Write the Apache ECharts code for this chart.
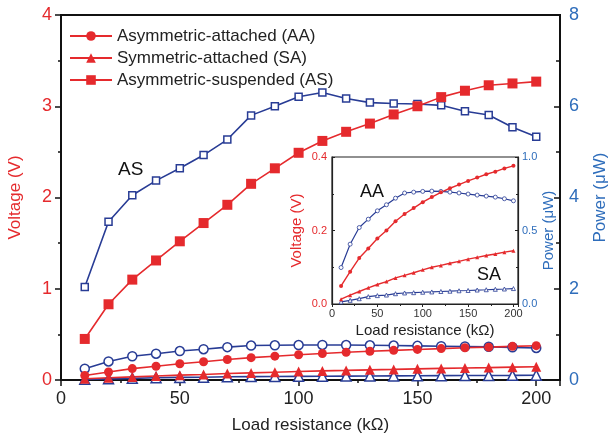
<!DOCTYPE html>
<html>
<head>
<meta charset="utf-8">
<script src="https://cdn.jsdelivr.net/npm/echarts@6/dist/echarts.min.js"></script>
<style>
  html, body { margin: 0; padding: 0; background: #fff; }
  #chart { width: 609px; height: 445px; }
</style>
</head>
<body>
<div id="chart"></div>
<script>
// load resistance (kOhm)
var loads = [10, 20, 30, 40, 50, 60, 70, 80, 90, 100, 110, 120, 130, 140, 150, 160, 170, 180, 190, 200];

// voltage (V)
var voltAA = [0.049, 0.088, 0.125, 0.151, 0.178, 0.200, 0.225, 0.245, 0.261, 0.277, 0.291, 0.304, 0.315, 0.325, 0.335, 0.344, 0.353, 0.360, 0.369, 0.376];
var voltSA = [0.013, 0.024, 0.034, 0.044, 0.053, 0.061, 0.071, 0.078, 0.085, 0.093, 0.100, 0.105, 0.111, 0.116, 0.122, 0.127, 0.132, 0.136, 0.141, 0.145];
var voltAS = [0.45, 0.83, 1.10, 1.31, 1.52, 1.72, 1.92, 2.15, 2.32, 2.49, 2.62, 2.72, 2.81, 2.91, 3.00, 3.10, 3.17, 3.23, 3.25, 3.27];

// power (uW)
var powAA = [0.248, 0.407, 0.520, 0.577, 0.634, 0.675, 0.720, 0.755, 0.761, 0.766, 0.768, 0.766, 0.761, 0.755, 0.748, 0.741, 0.734, 0.727, 0.716, 0.702];
var powSA = [0.014, 0.025, 0.036, 0.050, 0.057, 0.061, 0.070, 0.075, 0.077, 0.080, 0.082, 0.085, 0.087, 0.090, 0.092, 0.095, 0.097, 0.100, 0.102, 0.105];
var powAS = [2.04, 3.47, 4.05, 4.37, 4.64, 4.93, 5.27, 5.80, 6.00, 6.21, 6.30, 6.17, 6.08, 6.06, 6.05, 6.02, 5.89, 5.81, 5.54, 5.33];

var names = ['Asymmetric-attached (AA)', 'Symmetric-attached (SA)', 'Asymmetric-suspended (AS)'];

var RED = '#e52a2d';
var BLUE = '#283c95';
var BLUE_TXT = '#2e6dbb';
var FONT = 'Liberation Sans, Arial, sans-serif';

function pairs(arr) {
    return loads.map(function (x, i) { return [x, arr[i]]; });
}

// main chart line
function vLine(name, arr, symbol, size) {
    return {
        name: name, type: 'line', xAxisIndex: 0, yAxisIndex: 0,
        data: pairs(arr), symbol: symbol, symbolSize: size,
        lineStyle: { color: RED, width: 1.6 },
        itemStyle: { color: RED }
    };
}
function pLine(name, arr, symbol, size) {
    return {
        name: name, type: 'line', xAxisIndex: 0, yAxisIndex: 1,
        data: pairs(arr), symbol: symbol, symbolSize: size,
        lineStyle: { color: BLUE, width: 1.6 },
        itemStyle: { color: '#fff', borderColor: BLUE, borderWidth: 1.5 }
    };
}
// inset lines
function ivLine(arr, symbol) {
    return {
        name: 'inset-v', type: 'line', xAxisIndex: 1, yAxisIndex: 2,
        data: pairs(arr), symbol: symbol, symbolSize: 4,
        lineStyle: { color: RED, width: 1.4 },
        itemStyle: { color: RED }
    };
}
function ipLine(arr, symbol) {
    return {
        name: 'inset-p', type: 'line', xAxisIndex: 1, yAxisIndex: 3,
        data: pairs(arr), symbol: symbol, symbolSize: 4,
        lineStyle: { color: BLUE, width: 1.2 },
        itemStyle: { color: '#fff', borderColor: BLUE, borderWidth: 0.8 }
    };
}

var frame = { lineStyle: { color: '#111', width: 2 } };

var option = {
    animation: false,
    textStyle: { fontFamily: FONT },
    grid: [
        { left: 61, right: 49, top: 15, bottom: 65, show: true, borderColor: '#111', borderWidth: 2, outerBoundsMode: 'none', containLabel: false },
        { left: 332, top: 157, width: 186, height: 147, show: true, backgroundColor: '#fff', borderColor: '#222', borderWidth: 1.2, outerBoundsMode: 'none', containLabel: false }
    ],
    legend: {
        data: names,
        orient: 'vertical',
        left: 64, top: 21,
        itemWidth: 42, itemHeight: 12, itemGap: 2,
        textStyle: { fontSize: 17, color: '#222', lineHeight: 20, fontFamily: FONT }
    },
    xAxis: [
        {
            type: 'value', gridIndex: 0, min: 0, max: 210, interval: 50,
            name: 'Load resistance (k\u03A9)', nameLocation: 'middle', nameGap: 37,
            nameTextStyle: { fontSize: 17, color: '#222' },
            axisLine: frame,
            axisTick: { length: 6, lineStyle: { width: 1.5, color: '#111' } },
            minorTick: { show: true, splitNumber: 2, length: 3, lineStyle: { width: 1.5, color: '#111' } },
            splitLine: { show: false },
            axisLabel: { fontSize: 18, color: '#222', margin: 10, showMaxLabel: false }
        },
        {
            type: 'value', gridIndex: 1, min: 0, max: 205, interval: 50,
            name: 'Load resistance (k\u03A9)', nameLocation: 'middle', nameGap: 19,
            nameTextStyle: { fontSize: 15, color: '#222' },
            axisLine: { lineStyle: { color: '#222', width: 1.2 } },
            axisTick: { length: 3, lineStyle: { color: '#222' } },
            minorTick: { show: true, splitNumber: 2, length: 2, lineStyle: { color: '#222' } },
            splitLine: { show: false },
            axisLabel: { fontSize: 11, color: '#333', margin: 4, showMaxLabel: false }
        }
    ],
    yAxis: [
        {
            type: 'value', gridIndex: 0, min: 0, max: 4, interval: 1, position: 'left',
            name: 'Voltage (V)', nameLocation: 'middle', nameGap: 37,
            nameTextStyle: { fontSize: 17, color: RED },
            axisLine: frame,
            axisTick: { length: 6, lineStyle: { width: 1.5, color: '#111' } },
            minorTick: { show: true, splitNumber: 2, length: 3, lineStyle: { width: 1.5, color: '#111' } },
            splitLine: { show: false },
            axisLabel: { fontSize: 18, color: RED, margin: 9 }
        },
        {
            type: 'value', gridIndex: 0, min: 0, max: 8, interval: 2, position: 'right',
            name: 'Power (\u03BCW)', nameLocation: 'middle', nameGap: 32,
            nameTextStyle: { fontSize: 17, color: BLUE_TXT },
            axisLine: frame,
            axisTick: { inside: true, length: 6, lineStyle: { width: 1.5, color: '#111' } },
            minorTick: { show: true, splitNumber: 2, length: 4, lineStyle: { width: 1.5, color: '#111' } },
            splitLine: { show: false },
            axisLabel: { fontSize: 18, color: BLUE_TXT, margin: 9 }
        },
        {
            type: 'value', gridIndex: 1, min: 0, max: 0.4, interval: 0.2, position: 'left',
            name: 'Voltage (V)', nameLocation: 'middle', nameGap: 28,
            nameTextStyle: { fontSize: 15, color: RED },
            axisLine: { lineStyle: { color: '#222', width: 1.2 } },
            axisTick: { inside: true, length: 3, lineStyle: { color: '#222' } },
            minorTick: { show: true, splitNumber: 2, length: 2, lineStyle: { color: '#222' } },
            splitLine: { show: false },
            axisLabel: { fontSize: 11, color: RED, margin: 5, formatter: function (v) { return v.toFixed(1); } }
        },
        {
            type: 'value', gridIndex: 1, min: 0, max: 1, interval: 0.5, position: 'right',
            name: 'Power (\u03BCW)', nameLocation: 'middle', nameGap: 21,
            nameTextStyle: { fontSize: 15, color: BLUE_TXT },
            axisLine: { lineStyle: { color: '#222', width: 1.2 } },
            axisTick: { inside: true, length: 3, lineStyle: { color: '#222' } },
            minorTick: { show: true, splitNumber: 2, length: 2, lineStyle: { color: '#222' } },
            splitLine: { show: false },
            axisLabel: { fontSize: 11, color: BLUE_TXT, margin: 4, formatter: function (v) { return v.toFixed(1); } }
        }
    ],
    graphic: [
        { type: 'text', left: 118, top: 160, style: { text: 'AS', fontSize: 19, fill: '#111', fontFamily: FONT } },
        { type: 'text', left: 360, top: 183, z: 10, style: { text: 'AA', fontSize: 18, fill: '#111', fontFamily: FONT } },
        { type: 'text', left: 477, top: 266, z: 10, style: { text: 'SA', fontSize: 18, fill: '#111', fontFamily: FONT } }
    ],
    series: [
        pLine('AA power', powAA, 'circle', 9),
        pLine('SA power', powSA, 'triangle', 10),
        pLine('AS power', powAS, 'rect', 7),
        vLine(names[0], voltAA, 'circle', 9),
        vLine(names[1], voltSA, 'triangle', 10),
        vLine(names[2], voltAS, 'rect', 10),
        ipLine(powAA, 'circle'),
        ipLine(powSA, 'triangle'),
        ivLine(voltAA, 'circle'),
        ivLine(voltSA, 'triangle')
    ]
};

var myChart = echarts.init(document.getElementById('chart'));
myChart.setOption(option);
</script>
</body>
</html>
